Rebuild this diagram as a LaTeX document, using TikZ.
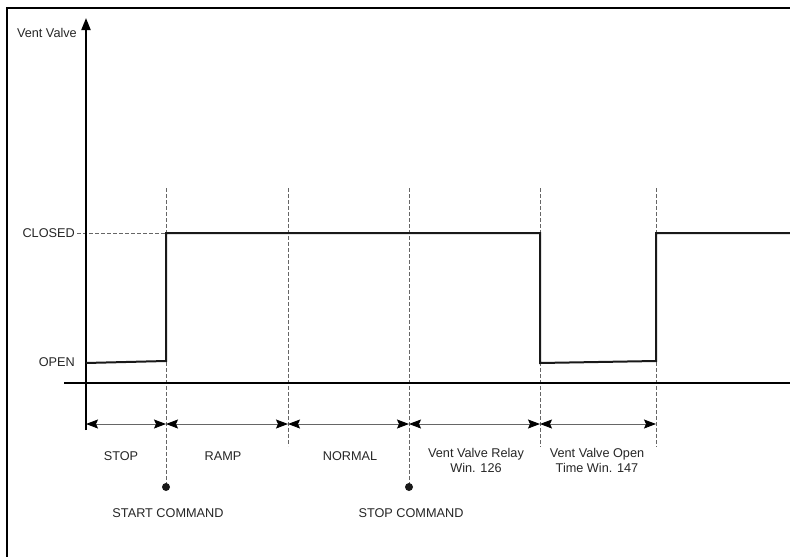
\documentclass[tikz,border=0pt]{standalone}
\usepackage{fontspec}
\setmainfont{Liberation Sans}
\usetikzlibrary{arrows.meta}
\begin{document}
\begin{tikzpicture}[x=1pt,y=-1pt,
  lbl/.style={font=\fontsize{12.7}{15}\selectfont, text=black!85, inner sep=0pt, align=center},
  sig/.style={line width=2pt, black!90, line join=miter},
  guide/.style={dash pattern=on 4pt off 2pt, line width=0.7pt, black!60},
  dim/.style={line width=0.9pt, black!60,
    {Stealth[length=12pt,width=9pt,inset=2pt,color=black]}-{Stealth[length=12pt,width=9pt,inset=2pt,color=black]}},
  dot/.style={circle, fill=black!90, inner sep=0pt, minimum size=8pt},
]
\useasboundingbox (0,0) rectangle (790,557);
% frame
\draw[line width=2.2pt] (7,557) -- (7,8) -- (790,8);

% coordinates
\coordinate (yb) at (86,430);
\coordinate (yt) at (86,18);
\coordinate (xl) at (64,383);
\coordinate (xr) at (790,383);
\foreach \n/\x/\yb in {1/166/487, 2/288/446, 3/409/487, 4/540/447, 5/656/447}{
  \coordinate (g\n t) at (\x,188);
  \coordinate (g\n b) at (\x,\yb);
}
\foreach \n/\x in {0/86, 1/166, 2/288, 3/409, 4/540, 5/656}{
  \coordinate (a\n) at (\x,424);
}

% guides
\foreach \n in {1,...,5}{ \draw[guide] (g\n t) -- (g\n b); }
\coordinate (cl) at (77,233);
\coordinate (c1) at (166,233);
\draw[guide] (cl) -- (c1);

% axes
\draw[line width=2pt, -{Triangle[length=12pt,width=9pt]}] (yb) -- (yt);
\draw[line width=1.8pt] (xl) -- (xr);

% signal
\coordinate (s0) at (86,363);
\coordinate (s1) at (166,361);
\coordinate (s2) at (166,233);
\coordinate (s3) at (540,233);
\coordinate (s4) at (540,363);
\coordinate (s5) at (656,361);
\coordinate (s6) at (656,233);
\coordinate (s7) at (790,233);
\draw[sig] (s0) -- (s1) -- (s2) -- (s3) -- (s4) -- (s5) -- (s6) -- (s7);

% dimension arrows
\draw[dim] (a0) -- (a1);
\draw[dim] (a1) -- (a2);
\draw[dim] (a2) -- (a3);
\draw[dim] (a3) -- (a4);
\draw[dim] (a4) -- (a5);

% dots
\node[dot] (d1) at (g1b) {};
\node[dot] (d3) at (g3b) {};

% labels
\node[lbl, anchor=base east] (vv) at (77,37.5) {Vent Valve};
\node[lbl, anchor=base east] (closed) at (75,237.5) {CLOSED};
\node[lbl, anchor=base east] (open) at (75,366.5) {OPEN};
\node[lbl, anchor=base] (stop) at (121,460.5) {STOP};
\node[lbl, anchor=base] (ramp) at (223,460.5) {RAMP};
\node[lbl, anchor=base] (normal) at (350,460.5) {NORMAL};
\node[lbl, anchor=north] (relay) at (476,447.7) {Vent Valve Relay\\Win. 126};
\node[lbl, anchor=north] (opent) at (597,447.7) {Vent Valve Open\\Time Win. 147};
\node[lbl, anchor=base] (startc) at (168,517) {START COMMAND};
\node[lbl, anchor=base] (stopc) at (411,517) {STOP COMMAND};
\end{tikzpicture}
\end{document}
